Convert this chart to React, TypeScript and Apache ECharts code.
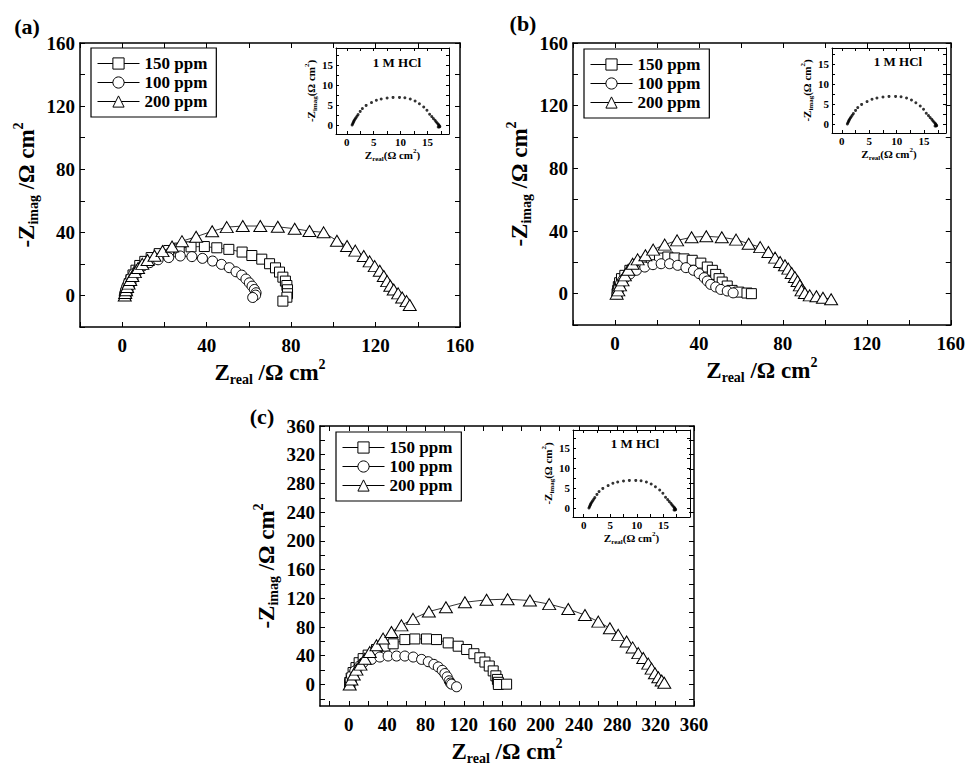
import React, { useEffect, useRef } from 'react';
import * as echarts from 'echarts';

const FONT = "'Liberation Serif', 'Times New Roman', Times, serif";

// ---------------- data ----------------
const SERIES_NAMES = ['150 ppm', '100 ppm', '200 ppm'];
const SERIES_SYMBOLS = ['rect', 'circle', 'triangle'];

// panel (a)
const A_150 = [[1.5,0],[1.8,1.5],[2.2,3],[2.7,5],[3.3,7.5],[4.1,10],[5.1,13],[6.5,16],[8.3,19],[10.7,21.6],[13.7,24],[17.5,26.5],[22,28.5],[27,30],[32.6,30.8],[38.9,31],[44.8,30.2],[50.5,29.2],[56.8,27.5],[61.4,25.3],[66.1,23],[69.8,20.1],[72.6,17.5],[74.5,14.8],[76.1,11.6],[77.3,9.1],[78,6.3],[78.3,3.6],[78.3,1.1],[78,-1.1],[76.1,-3.6]];
const A_100 = [[1,0],[1.2,1.5],[1.6,3.5],[2.2,5.8],[3,8.3],[4.1,11],[5.5,13.8],[7.4,16.4],[9.8,18.7],[13,20.8],[17,22.6],[22,24],[27.5,25],[33,24.6],[38,23.5],[42.8,21.8],[47,19.7],[50.7,17.6],[53.9,15],[56.6,12.9],[58.6,10.4],[60.2,8],[61.5,5.9],[62.6,3.8],[63.4,1.7],[63.2,0.2],[61.8,-1.3]];
const A_200 = [[1.2,0],[1.4,1.5],[1.8,3.3],[2.3,5.3],[3,7.5],[3.8,9.8],[4.8,12.3],[6,14.8],[7.5,17.4],[9.5,20],[12,22.5],[15.3,25.2],[19.1,28.1],[23.6,31],[28.3,34.4],[35,37.2],[42.6,40.7],[49.5,43.3],[57.1,44],[65.4,44],[73.7,43.5],[81.7,42.3],[88.7,40.8],[95.4,40],[101.7,34.7],[106.5,31.3],[110.4,28.4],[114.4,25],[117.2,21.6],[119.6,18.6],[122,15.7],[123.9,12.3],[125.5,9.1],[127,6.1],[128.6,3.8],[130.7,1.3],[132.6,-1.3],[134.7,-3.6],[136.2,-6.1]];

// panel (b)
const B_150 = [[1,0],[1.3,2.1],[1.6,4.5],[2.2,7],[3.1,9.6],[4.7,11.7],[7.1,14.9],[10.2,18],[13.4,20.2],[17.3,21.7],[21.2,22.7],[25.2,23.4],[28.5,22.8],[32.9,22.2],[36.8,21.3],[40.9,19.5],[44,17],[46.4,14.9],[48,12.3],[49.6,9.6],[51.1,7.4],[53.5,4.9],[55.8,2.1],[59,1],[62.9,0.4],[65,0]];
const B_100 = [[1,0],[1.3,2],[1.8,4],[2.6,6.3],[3.7,8.6],[5.2,10.5],[7.1,12.5],[10.2,14.9],[14.2,17],[18.1,18.5],[22,19.1],[26,19.1],[29.9,18.1],[33.8,16.6],[37.4,14.9],[40.1,12.8],[42.5,10.2],[44,8.1],[45.6,5.9],[48,4.3],[50.4,2.7],[53.5,1.7],[56.3,0.5]];
const B_200 = [[0.8,0],[1.6,2.1],[2.4,5.3],[3.6,8.5],[4.7,11.7],[6.3,15.3],[8.4,19.1],[10.8,21.9],[14.5,24.5],[18.2,28.1],[23.7,31.3],[29.6,34],[36.5,36],[43.5,36.6],[50.9,36],[57.7,34.5],[63.7,31.9],[69.2,29.7],[73.1,26.6],[76.3,23],[78.7,20.2],[81,18.1],[82.6,16],[84.2,13.2],[85.7,10.6],[87,8.1],[88.1,5.3],[88.9,2.1],[90.5,0.4],[92.8,-1.1],[96,-1.7],[99.1,-2.6],[103,-3.6]];

// panel (c)
const C_150 = [[1,0],[1,2.8],[2.5,9],[4.5,16.6],[7.5,23.5],[10.8,30.3],[15,36],[20.2,40.9],[28.9,48.7],[37.6,53.3],[46.3,56.6],[58.5,62.5],[68.9,63.4],[81.1,63.4],[91.5,62.5],[103.7,57.9],[114.1,53.3],[122.9,48.7],[130.5,42.8],[136.7,37.2],[142,31.2],[146.5,25.7],[150.6,18.9],[153.4,12],[155,7],[156,3],[156,0],[164.6,0.4]];
const C_100 = [[1,0],[1.5,5],[2.8,12],[6.3,18.9],[10.8,25.3],[15,30.3],[23.7,34.9],[32.4,38.2],[41,39.6],[49.8,39.6],[58.5,39.6],[67.2,38.2],[75.9,34.9],[82.9,31.7],[88.7,28],[93.3,24.4],[97.4,19.7],[100.2,15.2],[102.6,10.6],[104.7,5.1],[106,2],[107.2,0.4],[112.4,-3.2]];
const C_200 = [[1,0],[2.8,6.9],[5.2,13.8],[8,20.7],[12.2,27.6],[16.7,35.9],[21.9,45.1],[28.9,54.7],[35.8,63.9],[44.5,73.1],[54.9,82.3],[67,91.4],[83.5,101.6],[101.3,107.6],[121.1,114.5],[143.7,117.9],[165.6,118.8],[188.9,116.9],[209,111.9],[228.9,105],[246.3,96.7],[260.2,87.5],[272.3,78.3],[281,69.1],[289.7,59.9],[296,51.6],[301.9,43.7],[307.1,36.8],[312.3,29],[315.8,22.1],[319.3,15.7],[322.8,10.1],[326.3,5.5],[329,2.3]];

// inset: blank 1 M HCl
const HCL_BLANK = [[1.0,0],[1.1,0.3],[1.2,0.6],[1.3,0.9],[1.4,1.2],[1.55,1.5],[1.7,1.8],[1.9,2.2],[2.1,2.6],[2.5,3.4],[2.9,4.1],[3.6,4.9],[4.6,5.6],[5.5,6.2],[6.4,6.5],[7.5,6.75],[8.6,6.9],[9.8,6.9],[10.8,6.8],[11.8,6.5],[12.7,6.0],[13.5,5.3],[14.3,4.5],[14.9,3.7],[15.4,2.7],[15.8,2.1],[16.1,1.6],[16.4,1.2],[16.6,0.8],[16.8,0.5],[17.0,0.2],[17.1,0],[17.2,-0.2],[17.3,-0.4],[17.2,-0.5],[17.0,-0.5]];

const AB_TICKS = [-20, 0, 20, 40, 60, 80, 100, 120, 140, 160];
const AB_LABELS = [0, 40, 80, 120, 160];
const C_TICKS = [-20, 0, 20, 40, 60, 80, 100, 120, 140, 160, 180, 200, 220, 240, 260, 280, 300, 320, 340, 360];
const C_LABELS = [0, 40, 80, 120, 160, 200, 240, 280, 320, 360];
const INSET_TICKS = [0, 2.5, 5, 7.5, 10, 12.5, 15, 17.5];
const INSET_LABELS = [0, 5, 10, 15];
const INSET_TITLE = '1 M HCl';
const PANEL_LABELS = ['(a)', '(b)', '(c)'];

// ---------------- layout ----------------
const PANELS = [
  {
    data: [A_150, A_100, A_200], ticks: AB_TICKS, labels: AB_LABELS,
    xr: [-20, 160], yr: [-20, 160],
    grid: { left: 80, top: 43, width: 380, height: 284 },
    inset: { left: 336, top: 48, width: 113, height: 86 }, ixr: [-2, 19], iyr: [-2.25, 19.25],
    legend: { left: 91, top: 48 }, tag: [27, 26], hcl: [397, 62],
  },
  {
    data: [B_150, B_100, B_200], ticks: AB_TICKS, labels: AB_LABELS,
    xr: [-20, 160], yr: [-20, 160],
    grid: { left: 573, top: 43, width: 381, height: 282 },
    inset: { left: 832, top: 48, width: 114, height: 85 }, ixr: [-1.8, 19], iyr: [-2.25, 19],
    legend: { left: 584, top: 49 }, tag: [523, 23], hcl: [898, 61],
  },
  {
    data: [C_150, C_100, C_200], ticks: C_TICKS, labels: C_LABELS,
    xr: [-30, 360], yr: [-30, 360],
    grid: { left: 320, top: 426, width: 374, height: 282 },
    inset: { left: 573, top: 430, width: 117, height: 87 }, ixr: [-2, 20], iyr: [-2.25, 19.5],
    legend: { left: 336, top: 432 }, tag: [262, 416], hcl: [635, 443],
  },
];

function richName(size: number, sub: number, subPad: number, supPad: number) {
  const base = { fontFamily: FONT, fontWeight: 'bold' as const, color: '#000' };
  return {
    ...base,
    fontSize: size,
    rich: {
      m: { ...base, fontSize: size },
      s: { ...base, fontSize: sub, padding: [subPad, 0, 0, 0] },
      p: { ...base, fontSize: sub, padding: [0, 0, supPad, 0] },
    },
  };
}

function makeAxis(o: any) {
  return {
    type: 'value',
    gridIndex: o.grid,
    position: o.position,
    min: o.range[0],
    max: o.range[1],
    axisLine: { show: true, onZero: false, lineStyle: { color: '#000', width: o.lw } },
    axisTick: { show: true, inside: true, length: o.tick, customValues: o.ticks, lineStyle: { color: '#000', width: 1 } },
    axisLabel: {
      show: o.showLabel, customValues: o.labels, margin: o.margin, color: '#000',
      fontFamily: FONT, fontWeight: 'bold', fontSize: o.font,
      showMinLabel: true, showMaxLabel: true, hideOverlap: false,
    },
    splitLine: { show: false },
    name: o.name || '',
    nameLocation: 'middle',
    nameGap: o.nameGap || 0,
    nameTextStyle: o.nameStyle,
    silent: true,
  };
}

function buildOption() {
  const grid: any[] = [];
  const xAxis: any[] = [];
  const yAxis: any[] = [];
  const series: any[] = [];
  const legend: any[] = [];
  const graphic: any[] = [];

  PANELS.forEach((p, i) => {
    const gm = grid.length;
    grid.push({ ...p.grid, containLabel: false });
    const gi = grid.length;
    grid.push({ ...p.inset, containLabel: false });

    const xm = xAxis.length;
    xAxis.push(makeAxis({
      grid: gm, position: 'bottom', range: p.xr, ticks: p.ticks, labels: p.labels, showLabel: true,
      lw: 1.5, tick: 5, margin: 9, font: 19,
      name: '{m|Z}{s|real}{m| /Ω cm}{p|2}', nameGap: 30, nameStyle: richName(23, 14, 14, 16),
    }));
    xAxis.push(makeAxis({ grid: gm, position: 'top', range: p.xr, ticks: p.ticks, labels: p.labels, showLabel: false, lw: 1.5, tick: 5, margin: 8, font: 19 }));
    const ym = yAxis.length;
    yAxis.push(makeAxis({
      grid: gm, position: 'left', range: p.yr, ticks: p.ticks, labels: p.labels, showLabel: true,
      lw: 1.5, tick: 5, margin: 5, font: 19,
      name: '{m|-Z}{s|imag}{m| /Ω cm}{p|2}', nameGap: 39, nameStyle: richName(23, 14, 14, 16),
    }));
    yAxis.push(makeAxis({ grid: gm, position: 'right', range: p.yr, ticks: p.ticks, labels: p.labels, showLabel: false, lw: 1.5, tick: 5, margin: 8, font: 19 }));

    const xi = xAxis.length;
    xAxis.push(makeAxis({
      grid: gi, position: 'bottom', range: p.ixr, ticks: INSET_TICKS, labels: INSET_LABELS, showLabel: true,
      lw: 1, tick: 3, margin: 2, font: 11,
      name: '{m|Z}{s|real}{m|(Ω cm}{p|2}{m|)}', nameGap: 8, nameStyle: richName(11, 7, 7, 8),
    }));
    xAxis.push(makeAxis({ grid: gi, position: 'top', range: p.ixr, ticks: INSET_TICKS, labels: INSET_LABELS, showLabel: false, lw: 1, tick: 3, margin: 2, font: 11 }));
    const yi = yAxis.length;
    yAxis.push(makeAxis({
      grid: gi, position: 'left', range: p.iyr, ticks: INSET_TICKS, labels: INSET_LABELS, showLabel: true,
      lw: 1, tick: 3, margin: 3, font: 11,
      name: '{m|-Z}{s|imag}{m|(Ω cm}{p|2}{m|)}', nameGap: 16, nameStyle: richName(11, 7, 7, 8),
    }));
    yAxis.push(makeAxis({ grid: gi, position: 'right', range: p.iyr, ticks: INSET_TICKS, labels: INSET_LABELS, showLabel: false, lw: 1, tick: 3, margin: 2, font: 11 }));

    p.data.forEach((d, k) => {
      series.push({
        type: 'line',
        name: SERIES_NAMES[k],
        xAxisIndex: xm,
        yAxisIndex: ym,
        data: d,
        symbol: SERIES_SYMBOLS[k],
        symbolSize: k === 2 ? [13, 11] : 10,
        showSymbol: true,
        showAllSymbol: true,
        itemStyle: { color: '#fff', borderColor: '#000', borderWidth: 1 },
        lineStyle: { color: '#000', width: 0.8 },
        emphasis: { disabled: true },
        silent: true,
        z: 2 + k,
      });
    });
    series.push({
      type: 'scatter',
      name: INSET_TITLE,
      xAxisIndex: xi,
      yAxisIndex: yi,
      data: HCL_BLANK,
      symbol: 'circle',
      symbolSize: 3,
      itemStyle: { color: '#000' },
      emphasis: { disabled: true },
      silent: true,
    });

    legend.push({
      data: SERIES_NAMES,
      orient: 'vertical',
      left: p.legend.left,
      top: p.legend.top,
      selectedMode: false,
      borderColor: '#000',
      borderWidth: 1.2,
      padding: [7, 9, 7, 6],
      itemGap: 2,
      itemWidth: 42,
      itemHeight: 14,
      itemStyle: { borderWidth: 1 },
      lineStyle: { width: 1 },
      textStyle: { fontFamily: FONT, fontWeight: 'bold', fontSize: 17, color: '#000', padding: [0, 0, 0, 0] },
    });

    graphic.push({
      type: 'text', x: p.tag[0], y: p.tag[1], silent: true,
      style: { text: PANEL_LABELS[i], fontFamily: FONT, fontWeight: 'bold', fontSize: 22, fill: '#000', align: 'center', verticalAlign: 'middle' },
    });
    graphic.push({
      type: 'text', x: p.hcl[0], y: p.hcl[1], silent: true,
      style: { text: INSET_TITLE, fontFamily: FONT, fontWeight: 'bold', fontSize: 13, fill: '#000', align: 'center', verticalAlign: 'middle' },
    });
  });

  return {
    animation: false,
    backgroundColor: '#fff',
    grid, xAxis, yAxis, series, legend, graphic,
  };
}

export default function App() {
  const ref = useRef<HTMLDivElement>(null);
  useEffect(() => {
    if (!ref.current) return;
    const chart = echarts.init(ref.current, undefined, { renderer: 'svg' });
    chart.setOption(buildOption() as any);
    return () => chart.dispose();
  }, []);
  return (
    <div
      ref={ref}
      style={{ position: 'absolute', left: 0, top: 0, width: 968, height: 766, background: '#fff' }}
    />
  );
}
